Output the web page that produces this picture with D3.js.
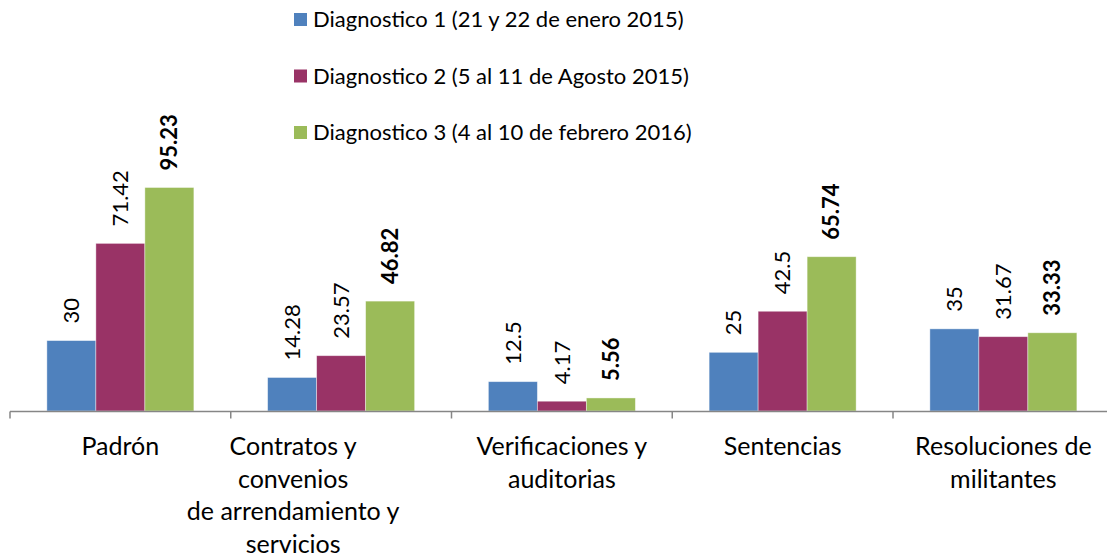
<!DOCTYPE html>
<html lang="es">
<head>
<meta charset="UTF-8">
<title>Diagnosticos</title>
<style>
  body { margin: 0; background: #fff; }
  text { font-family: Lato, "Open Sans", sans-serif; fill: #000; }
</style>
</head>
<body>
<div id="chart"></div>
<script src="https://d3js.org/d3.v7.min.js"></script>
<script>
// data
var categories = ["Padrón", "Contratos y convenios de arrendamiento y servicios",
                  "Verificaciones y auditorias", "Sentencias", "Resoluciones de militantes"];
var categoryLines = [
  ["Padrón"],
  ["Contratos y", "convenios", "de arrendamiento y", "servicios"],
  ["Verificaciones y", "auditorias"],
  ["Sentencias"],
  ["Resoluciones de", "militantes"]
];
var seriesNames = ["Diagnostico 1 (21 y 22 de enero 2015)",
                   "Diagnostico 2 (5 al 11 de Agosto 2015)",
                   "Diagnostico 3 (4 al 10 de febrero 2016)"];
var diag1 = [30, 14.28, 12.5, 25, 35];
var diag2 = [71.42, 23.57, 4.17, 42.5, 31.67];
var diag3 = [95.23, 46.82, 5.56, 65.74, 33.33];
var seriesValues = [diag1, diag2, diag3];
var colors = ["#4F81BD", "#993366", "#9BBB59"];

var W = 1107, H = 558;
var svg = d3.select("#chart").append("svg")
    .attr("width", W).attr("height", H);

var x = d3.scaleBand()
    .domain(categories)
    .range([10, 10 + 5 * 220.75]);

var inner = d3.scaleBand()
    .domain([0, 1, 2])
    .range([0, 147]);

var y = d3.scaleLinear()
    .domain([0, 100])
    .range([411, 176.3]);

// bars
seriesValues.forEach(function (vals, s) {
  var g = svg.append("g");
  g.selectAll("rect")
    .data(vals)
    .enter().append("rect")
    .attr("x", function (d, i) { return x(categories[i]) + x.bandwidth() / 2 - 73.5 + inner(s); })
    .attr("y", function (d) { return y(d); })
    .attr("width", inner.bandwidth())
    .attr("height", function (d) { return y(0) - y(d); })
    .attr("fill", colors[s])
    .attr("stroke", "#fff")
    .attr("stroke-opacity", 0.5)
    .attr("stroke-width", 0.8);

  g.selectAll("text")
    .data(vals)
    .enter().append("text")
    .attr("transform", function (d, i) {
      var cx = x(categories[i]) + x.bandwidth() / 2 - 73.5 + inner(s) + inner.bandwidth() / 2;
      return "translate(" + cx + "," + (y(d) - 17) + ") rotate(-90)";
    })
    .attr("dy", "0.35em")
    .style("font-size", "22px")
    .style("font-weight", s === 2 ? "bold" : "normal")
    .text(function (d) { return d; });
});

// axis
var axis = svg.append("g").attr("transform", "translate(0,411.5)");
axis.append("line")
    .attr("x1", 10).attr("x2", W)
    .attr("stroke", "#868686").attr("stroke-width", 1.5);
axis.selectAll("line.tick")
    .data(categories.concat([null]))
    .enter().append("line")
    .attr("class", "tick")
    .attr("x1", function (d, i) { return 10 + i * x.step(); })
    .attr("x2", function (d, i) { return 10 + i * x.step(); })
    .attr("y1", 0).attr("y2", 7)
    .attr("stroke", "#868686").attr("stroke-width", 1.5);

// category labels (the long wrapped one sits left of its band, as in the original)
categoryLines.forEach(function (lines, i) {
  var cx = x(categories[i]) + x.bandwidth() / 2 + (lines.length > 3 ? -48 : 0);
  var t = svg.append("text")
    .attr("x", cx)
    .attr("y", 455)
    .attr("text-anchor", "middle")
    .style("font-size", "25px");
  lines.forEach(function (ln, k) {
    t.append("tspan")
      .attr("x", cx)
      .attr("dy", k === 0 ? 0 : 32.6)
      .text(ln);
  });
});

// legend
var legend = svg.append("g");
seriesNames.forEach(function (name, s) {
  var ly = 27 + s * 56.5;
  legend.append("rect")
    .attr("x", 294).attr("y", ly - 14)
    .attr("width", 13).attr("height", 13)
    .attr("fill", colors[s]);
  legend.append("text")
    .attr("x", 313).attr("y", ly)
    .style("font-size", "22px")
    .text(name);
});
</script>
</body>
</html>
